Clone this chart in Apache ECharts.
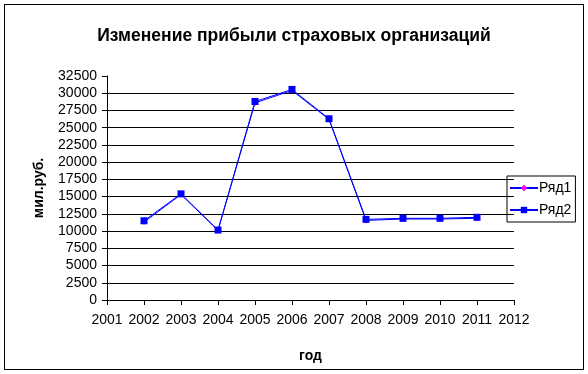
<!DOCTYPE html>
<html><head><meta charset="utf-8">
<script src="https://cdn.jsdelivr.net/npm/echarts@6/dist/echarts.min.js"></script>
<style>
html,body{margin:0;padding:0;background:#fff;}
#frame{position:absolute;left:4px;top:4px;width:578px;height:364px;border:1px solid #000;box-sizing:content-box;}
#c{position:absolute;left:0;top:0;width:588px;height:374px;}
</style></head>
<body>
<div id="frame"></div>
<div id="c"></div>
<script>
const years = [2002, 2003, 2004, 2005, 2006, 2007, 2008, 2009, 2010, 2011];
const series1 = [11300, 15300, 10100, 28600, 30400, 26200, 11550, 11750, 11750, 11850];
const series2 = [11500, 15400, 10150, 28800, 30550, 26300, 11700, 11850, 11850, 12000];
const yTicksMax = 32500, yInterval = 2500;
const xMin = 2001, xMax = 2012;

const chart = echarts.init(document.getElementById('c'), null, {renderer: 'canvas'});
const font = 'Liberation Sans, Arial, sans-serif';
chart.setOption({
  animation: false,
  backgroundColor: 'transparent',
  title: {
    text: 'Изменение прибыли страховых организаций',
    left: 289, top: 22, textAlign: 'center',
    textStyle: {fontFamily: font, fontSize: 17.5, fontWeight: 'bold', color: '#000'}
  },
  legend: {
    orient: 'vertical', left: 507, top: 176,
    itemWidth: 28, itemHeight: 8, itemGap: 8,
    padding: [5, 4, 5, 2],
    borderColor: '#000', borderWidth: 1,
    textStyle: {fontFamily: font, fontSize: 14, color: '#000', padding: [0, 0, 0, -4]},
    data: ['Ряд1', 'Ряд2']
  },
  grid: {left: 107, right: 74, top: 76, bottom: 74, containLabel: false},
  xAxis: {
    type: 'value', min: xMin, max: xMax, interval: 1,
    name: 'год', nameLocation: 'middle', nameGap: 49,
    nameTextStyle: {fontFamily: font, fontSize: 14, fontWeight: 'bold', color: '#000'},
    axisLine: {show: true, lineStyle: {color: '#000', width: 1}},
    axisTick: {show: true, length: 5, lineStyle: {color: '#000'}},
    axisLabel: {fontFamily: font, fontSize: 14, color: '#000', margin: 13, formatter: v => String(v)},
    splitLine: {show: false}
  },
  yAxis: {
    type: 'value', min: 0, max: yTicksMax, interval: yInterval,
    name: 'мил.руб.', nameLocation: 'middle', nameGap: 61, nameRotate: 90,
    nameTextStyle: {fontFamily: font, fontSize: 14, fontWeight: 'bold', color: '#000'},
    axisLine: {show: true, lineStyle: {color: '#000', width: 1}},
    axisTick: {show: true, length: 5, lineStyle: {color: '#000'}},
    axisLabel: {fontFamily: font, fontSize: 14, color: '#000', margin: 10, formatter: v => String(v)},
    splitLine: {show: true, lineStyle: {color: '#000', width: 1},
      showMinLine: false, showMaxLine: false}
  },
  series: [
    {
      name: 'Ряд1', type: 'line',
      data: years.map((y, i) => [y, series1[i]]),
      symbol: 'diamond', symbolSize: 6,
      itemStyle: {color: '#ff00ff'},
      lineStyle: {color: '#0000ff', width: 1}
    },
    {
      name: 'Ряд2', type: 'line',
      data: years.map((y, i) => [y, series2[i]]),
      symbol: 'rect', symbolSize: 7,
      itemStyle: {color: '#0000ff'},
      lineStyle: {color: '#0000ff', width: 1}
    }
  ]
});
</script>
</body></html>
